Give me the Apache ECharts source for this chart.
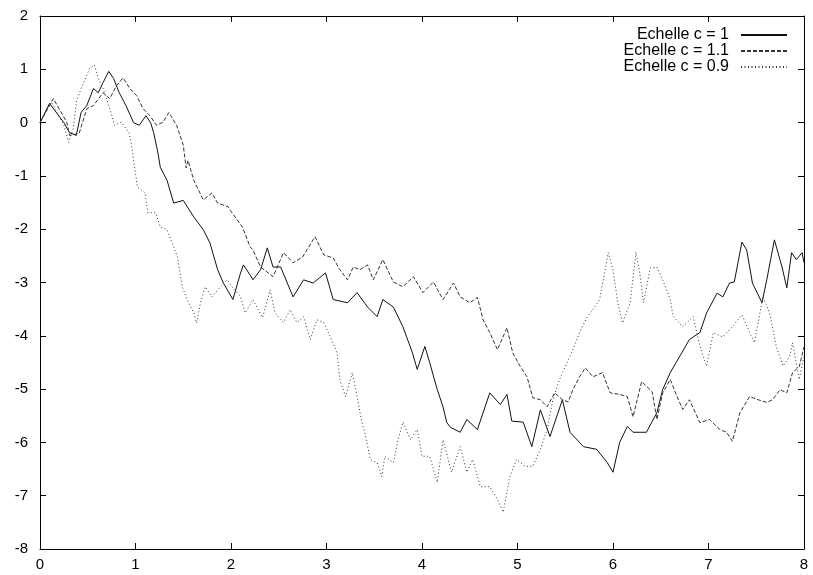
<!DOCTYPE html>
<html>
<head>
<meta charset="utf-8">
<script src="https://cdn.jsdelivr.net/npm/echarts@6/dist/echarts.min.js"></script>
<style>
  html, body { margin: 0; padding: 0; background: #fff; }
  #chart { width: 813px; height: 575px; }
</style>
</head>
<body>
<div id="chart"></div>
<script>
// tick labels
const xTicks = [0, 1, 2, 3, 4, 5, 6, 7, 8]
const yTicks = [2, 1, 0, -1, -2, -3, -4, -5, -6, -7, -8]

// series names
const names = ['Echelle c = 1', 'Echelle c = 1.1', 'Echelle c = 0.9']

// c = 1 (trait plein)
const xC1 = [0, 0.10, 0.25, 0.31, 0.38, 0.43, 0.49, 0.56, 0.61, 0.66, 0.72, 0.77, 0.83, 0.90, 0.98, 1.04, 1.11, 1.16, 1.19, 1.23,
  1.26, 1.33, 1.40, 1.50, 1.61, 1.71, 1.78, 1.86, 1.92, 2.02, 2.10, 2.13, 2.20, 2.23, 2.31, 2.38, 2.44, 2.52, 2.65, 2.76,
  2.86, 2.99, 3.07, 3.22, 3.32, 3.43, 3.53, 3.59, 3.70, 3.80, 3.90, 3.95, 4.03, 4.08, 4.16, 4.22, 4.26, 4.30, 4.40, 4.47,
  4.58, 4.71, 4.82, 4.89, 4.94, 5.06, 5.15, 5.24, 5.34, 5.47, 5.55, 5.69, 5.83, 5.94, 6.00, 6.07, 6.15, 6.21, 6.35, 6.46,
  6.52, 6.60, 6.72, 6.80, 6.91, 6.98, 7.09, 7.15, 7.22, 7.27, 7.35, 7.40, 7.46, 7.56, 7.61, 7.69, 7.77, 7.82, 7.87, 7.92,
  7.98, 8.00]
const yC1 = [0, 0.36, 0.00, -0.19, -0.24, 0.19, 0.32, 0.64, 0.56, 0.75, 0.96, 0.83, 0.56, 0.32, 0.00, -0.05, 0.13, -0.01, -0.19, -0.52,
  -0.84, -1.08, -1.51, -1.46, -1.77, -2.01, -2.26, -2.76, -3.01, -3.32, -2.82, -2.67, -2.86, -2.95, -2.76, -2.35, -2.71, -2.71, -3.27, -2.95,
  -3.01, -2.82, -3.32, -3.38, -3.19, -3.46, -3.64, -3.32, -3.46, -3.83, -4.32, -4.63, -4.20, -4.50, -5.01, -5.33, -5.63, -5.72, -5.81, -5.57,
  -5.76, -5.07, -5.29, -5.10, -5.60, -5.62, -6.08, -5.39, -5.89, -5.20, -5.81, -6.08, -6.13, -6.38, -6.56, -6.00, -5.70, -5.81, -5.81, -5.44,
  -5.01, -4.69, -4.32, -4.07, -3.94, -3.57, -3.20, -3.27, -3.01, -2.99, -2.24, -2.39, -3.01, -3.38, -2.95, -2.20, -2.71, -3.10, -2.44, -2.57,
  -2.44, -2.63]

// c = 1.1 (tirets)
const xC11 = [0, 0.14, 0.20, 0.28, 0.31, 0.41, 0.49, 0.56, 0.66, 0.73, 0.80, 0.87, 0.94, 1.01, 1.08, 1.15, 1.22, 1.29, 1.35, 1.43,
  1.50, 1.53, 1.55, 1.61, 1.71, 1.80, 1.86, 1.97, 1.99, 2.12, 2.20, 2.23, 2.31, 2.44, 2.55, 2.65, 2.75, 2.88, 2.97, 3.07,
  3.14, 3.22, 3.28, 3.35, 3.43, 3.49, 3.59, 3.70, 3.80, 3.91, 4.01, 4.12, 4.22, 4.33, 4.40, 4.50, 4.58, 4.64, 4.71, 4.79,
  4.89, 4.95, 5.03, 5.10, 5.16, 5.24, 5.31, 5.39, 5.47, 5.53, 5.58, 5.65, 5.71, 5.79, 5.89, 5.97, 6.07, 6.15, 6.21, 6.30,
  6.41, 6.46, 6.52, 6.60, 6.67, 6.73, 6.80, 6.91, 7.01, 7.12, 7.19, 7.25, 7.33, 7.43, 7.52, 7.61, 7.67, 7.75, 7.82, 7.88,
  7.95, 8.00]
const yC11 = [0, 0.45, 0.26, 0.01, -0.24, -0.20, 0.26, 0.32, 0.56, 0.45, 0.69, 0.84, 0.64, 0.51, 0.26, 0.13, -0.05, 0.01, 0.19, -0.05,
  -0.42, -0.85, -0.71, -1.08, -1.45, -1.32, -1.51, -1.58, -1.64, -1.96, -2.33, -2.39, -2.71, -2.89, -2.44, -2.63, -2.52, -2.14, -2.48, -2.54,
  -2.76, -2.95, -2.71, -2.76, -2.67, -2.95, -2.57, -2.99, -3.08, -2.89, -3.19, -2.99, -3.32, -3.01, -3.27, -3.38, -3.28, -3.70, -3.94, -4.26,
  -3.85, -4.32, -4.58, -4.77, -5.16, -5.20, -5.33, -5.07, -5.20, -5.24, -5.01, -4.77, -4.60, -4.77, -4.69, -5.07, -5.10, -5.14, -5.52, -4.86,
  -5.05, -5.57, -5.07, -4.82, -5.14, -5.38, -5.20, -5.63, -5.57, -5.76, -5.81, -5.98, -5.44, -5.14, -5.20, -5.25, -5.20, -5.01, -5.07, -4.69,
  -4.58, -4.21]

// c = 0.9 (pointillés)
const xC09 = [0, 0.04, 0.12, 0.25, 0.30, 0.35, 0.38, 0.43, 0.49, 0.52, 0.57, 0.61, 0.66, 0.73, 0.78, 0.85, 0.93, 0.95, 0.98, 1.02,
  1.10, 1.13, 1.21, 1.26, 1.33, 1.40, 1.44, 1.49, 1.54, 1.61, 1.64, 1.68, 1.73, 1.80, 1.89, 1.96, 2.01, 2.10, 2.15, 2.23,
  2.33, 2.41, 2.46, 2.55, 2.62, 2.69, 2.76, 2.83, 2.90, 2.97, 3.04, 3.11, 3.14, 3.20, 3.27, 3.32, 3.37, 3.40, 3.46, 3.53,
  3.58, 3.61, 3.70, 3.75, 3.80, 3.88, 3.95, 4.00, 4.08, 4.16, 4.22, 4.31, 4.40, 4.47, 4.53, 4.61, 4.71, 4.79, 4.85, 4.92,
  4.99, 5.08, 5.16, 5.24, 5.31, 5.37, 5.44, 5.52, 5.58, 5.65, 5.73, 5.79, 5.86, 5.95, 6.00, 6.05, 6.10, 6.18, 6.24, 6.28,
  6.32, 6.39, 6.46, 6.52, 6.60, 6.63, 6.73, 6.84, 6.91, 6.98, 7.05, 7.15, 7.25, 7.35, 7.41, 7.48, 7.57, 7.64, 7.71, 7.78,
  7.85, 7.88, 7.95, 8.00]
const yC09 = [0, 0.14, 0.38, -0.05, -0.37, -0.10, 0.38, 0.64, 0.89, 1.02, 1.08, 0.83, 0.64, 0.27, -0.05, 0.01, -0.18, -0.33, -0.70, -1.21,
  -1.32, -1.69, -1.69, -1.96, -2.01, -2.33, -2.52, -3.08, -3.32, -3.57, -3.76, -3.38, -3.08, -3.27, -3.08, -2.95, -3.08, -3.27, -3.57, -3.32,
  -3.66, -3.14, -3.57, -3.75, -3.51, -3.75, -3.64, -4.07, -3.70, -3.75, -4.02, -4.32, -4.82, -5.14, -4.69, -5.14, -5.62, -5.81, -6.32, -6.38,
  -6.64, -6.26, -6.38, -5.95, -5.62, -5.95, -5.76, -6.26, -6.26, -6.75, -5.95, -6.56, -6.08, -6.56, -6.32, -6.83, -6.83, -7.07, -7.31, -6.64,
  -6.32, -6.45, -6.45, -6.13, -5.76, -5.20, -4.82, -4.50, -4.26, -3.94, -3.64, -3.51, -3.32, -2.44, -2.76, -3.38, -3.76, -3.38, -2.43, -2.82,
  -3.38, -2.73, -2.71, -2.95, -3.32, -3.64, -3.83, -3.64, -4.20, -4.57, -3.94, -4.02, -3.83, -3.61, -3.85, -4.13, -3.27, -3.57, -4.20, -4.57,
  -4.39, -4.13, -4.82, -4.39]

const zip = (xs, ys) => xs.map((x, i) => [x, ys[i]])

const font = "'Liberation Sans Narrow', 'Liberation Sans', Arial, sans-serif"

const chart = echarts.init(document.getElementById('chart'), null, { renderer: 'canvas' })

// cadre façon gnuplot : traits sur les 4 côtés, graduations vers l'intérieur
const baseAxis = {
    axisLine: { show: true, onZero: false, lineStyle: { color: '#000', width: 1 } },
    axisTick: { show: true, inside: true, length: 6, lineStyle: { color: '#000', width: 1 } },
    splitLine: { show: false },
}

const lineSeries = (name, data, type, color) => ({
    name,
    type: 'line',
    data,
    symbol: 'none',
    showSymbol: false,
    animation: false,
    itemStyle: { color, opacity: 0 },
    lineStyle: { color, width: 1, type, opacity: 1 },
    emphasis: { disabled: true },
})

chart.setOption({
    animation: false,
    backgroundColor: '#fff',
    grid: { left: 40, right: 9, top: 16, bottom: 26, containLabel: false },
    legend: {
        orient: 'vertical',
        right: 20,
        top: 22,
        align: 'right',
        itemWidth: 46,
        itemHeight: 10,
        itemGap: 0,
        itemStyle: { opacity: 0 },
        textStyle: { fontFamily: font, fontSize: 16, color: '#000', width: 120, align: 'right', lineHeight: 15, padding: [0, 7, 0, 0] },
        data: names,
    },
    xAxis: [
        {
            ...baseAxis,
            type: 'value',
            min: 0,
            max: 8,
            interval: 1,
            position: 'bottom',
            axisLabel: { color: '#000', fontFamily: font, fontSize: 15, margin: 8, formatter: v => xTicks.includes(v) ? String(v) : '' },
        },
        {
            ...baseAxis,
            type: 'value',
            min: 0,
            max: 8,
            interval: 1,
            position: 'top',
            axisLabel: { show: false },
        },
    ],
    yAxis: [
        {
            ...baseAxis,
            type: 'value',
            min: -8,
            max: 2,
            interval: 1,
            position: 'left',
            axisLabel: { color: '#000', fontFamily: font, fontSize: 15, margin: 12, formatter: v => yTicks.includes(v) ? String(v) : '' },
        },
        {
            ...baseAxis,
            type: 'value',
            min: -8,
            max: 2,
            interval: 1,
            position: 'right',
            axisLabel: { show: false },
        },
    ],
    series: [
        lineSeries(names[0], zip(xC1, yC1), 'solid', '#111'),
        lineSeries(names[1], zip(xC11, yC11), [4, 2], '#333'),
        lineSeries(names[2], zip(xC09, yC09), [1, 2.5], '#333'),
    ],
})
</script>
</body>
</html>
